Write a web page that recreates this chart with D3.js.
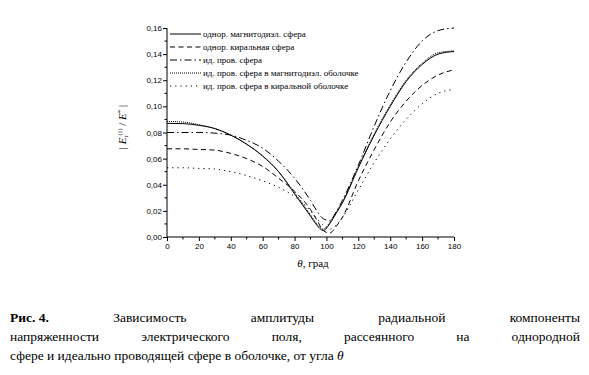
<!DOCTYPE html>
<html><head><meta charset="utf-8">
<script src="https://cdn.jsdelivr.net/npm/d3@7"></script>
<style>html,body{margin:0;padding:0;background:#fff;}svg{display:block;}</style>
</head><body>
<svg id="c" width="589" height="375"></svg>
<script>
const theta = [0,10,20,30,40,50,60,70,80,90,94,98,102,106,110,120,130,140,150,160,170,180];
const seriesNames = ["однор. магнитодиэл. сфера","однор. киральная сфера","ид. пров. сфера","ид. пров. сфера в магнитодиэл. оболочке","ид. пров. сфера в киральной оболочке"];
const solidVals   = [.087,.0868,.0855,.083,.078,.071,.062,.050,.033,.016,.009,.005,.010,.018,.026,.053,.078,.100,.119,.132,.140,.142];
const dashedVals  = [.0675,.0675,.067,.0665,.064,.060,.054,.045,.035,.021,.013,.005,.003,.008,.015,.043,.067,.088,.104,.116,.124,.128];
const dashDotVals = [.080,.080,.080,.0795,.078,.074,.068,.058,.045,.028,.020,.014,.0125,.019,.028,.055,.085,.112,.134,.150,.158,.160];
const denseDotVals= [.0885,.088,.086,.083,.078,.071,.062,.050,.034,.017,.010,.006,.011,.019,.027,.054,.079,.101,.120,.133,.141,.1425];
const sparseDotVals=[.053,.053,.0525,.052,.050,.047,.043,.038,.031,.020,.014,.009,.006,.009,.015,.036,.057,.075,.090,.102,.110,.113];
const xTicks = [0,20,40,60,80,100,120,140,160,180];
const yTicks = [0,0.02,0.04,0.06,0.08,0.10,0.12,0.14,0.16];
const captionLine1 = ["Рис. 4.","Зависимость","амплитуды","радиальной","компоненты"];
const captionLine2 = ["напряженности","электрического","поля,","рассеянного","на","однородной"];
const captionLine3 = "сфере и идеально проводящей сфере в оболочке, от угла ";

const SERIF = '"Times New Roman"';
const svg = d3.select("#c");
const x = d3.scaleLinear().domain([0,180]).range([167,454]);
const y = d3.scaleLinear().domain([0,0.16]).range([237,28]);
const fmt = d => d3.format(".2f")(d).replace(".", ",");

const series = [
  {vals: solidVals, dash: null},
  {vals: dashedVals, dash: "5,3.5"},
  {vals: dashDotVals, dash: "7,3,1.5,3"},
  {vals: denseDotVals, dash: "1,1"},
  {vals: sparseDotVals, dash: "1.2,4"}
];

const line = d3.line().x((d,i)=>x(theta[i])).y(d=>y(d)).curve(d3.curveMonotoneX);
series.forEach(s=>{
  svg.append("path").attr("d", line(s.vals)).attr("fill","none")
    .attr("stroke","#000").attr("stroke-width",1)
    .attr("stroke-dasharray", s.dash);
});

// axes
const gx = svg.append("g").attr("transform","translate(0,237)")
  .call(d3.axisBottom(x).tickValues(xTicks).tickSize(4).tickPadding(2).tickFormat(d3.format("d")));
gx.append("g").selectAll("line").data(d3.range(10,180,20)).join("line")
  .attr("x1",d=>x(d)).attr("x2",d=>x(d)).attr("y1",0).attr("y2",2.5).attr("stroke","#000");
const gy = svg.append("g").attr("transform","translate(167,0)")
  .call(d3.axisLeft(y).tickValues(yTicks).tickSize(4).tickPadding(1).tickFormat(fmt));
gy.append("g").selectAll("line").data(d3.range(0.01,0.16,0.02)).join("line")
  .attr("y1",d=>y(d)).attr("y2",d=>y(d)).attr("x1",0).attr("x2",-2.5).attr("stroke","#000");
[gx,gy].forEach(g=>{
  g.attr("font-family","Arial").attr("font-size",8);
  g.select(".domain").attr("stroke","#000");
  g.selectAll(".tick line").attr("stroke","#000");
  g.selectAll("text").attr("fill","#000");
});
gx.select(".domain").attr("d","M167,0H454");
gy.select(".domain").attr("d","M0,237V28");

// axis titles
const xt = svg.append("text").attr("x",313).attr("y",267).attr("text-anchor","middle")
  .style("font-family",SERIF).style("font-size","11px");
xt.append("tspan").attr("font-style","italic").text("θ");
xt.append("tspan").text(", град");

const yt = svg.append("text").attr("transform","translate(126,127) rotate(-90)").attr("text-anchor","middle")
  .style("font-family",SERIF).style("font-size","11px");
yt.append("tspan").text("| ");
yt.append("tspan").attr("font-style","italic").text("E");
yt.append("tspan").style("font-size","6px").attr("dy",2).text("r");
yt.append("tspan").style("font-size","6px").attr("dy",-6).text("(1)");
yt.append("tspan").attr("dy",4).text(" / ");
yt.append("tspan").attr("font-style","italic").text("E");
yt.append("tspan").style("font-size","7px").attr("dy",-4).text("*");
yt.append("tspan").attr("dy",4).text(" |");

// legend
const lg = svg.append("g");
const rowY = [34,47,60,73,86];
series.forEach((s,i)=>{
  lg.append("line").attr("x1",170).attr("x2",201).attr("y1",rowY[i]).attr("y2",rowY[i])
    .attr("stroke","#000").attr("stroke-width",1).attr("stroke-dasharray",s.dash);
  lg.append("text").attr("x",203).attr("y",rowY[i]+3).text(seriesNames[i])
    .style("font-family",SERIF).style("font-size","9px");
});

// caption
function justify(words, yPos, boldFirst){
  const nodes = words.map((w,i)=> svg.append("text").attr("y",yPos).text(w)
     .style("font-family",SERIF).style("font-size","13.5px")
     .style("font-weight", (boldFirst && i===0) ? "bold" : "normal"));
  const widths = nodes.map(n=>n.node().getComputedTextLength());
  const total = d3.sum(widths);
  const gap = (580 - 10 - total)/(words.length-1);
  let cx = 10;
  nodes.forEach((n,i)=>{ n.attr("x",cx); cx += widths[i] + gap; });
}
justify(captionLine1, 322, true);
justify(captionLine2, 341, false);
const c3 = svg.append("text").attr("x",10).attr("y",360).style("font-family",SERIF).style("font-size","13.5px");
c3.append("tspan").text(captionLine3);
c3.append("tspan").attr("font-style","italic").text("θ");
</script>
</body></html>
